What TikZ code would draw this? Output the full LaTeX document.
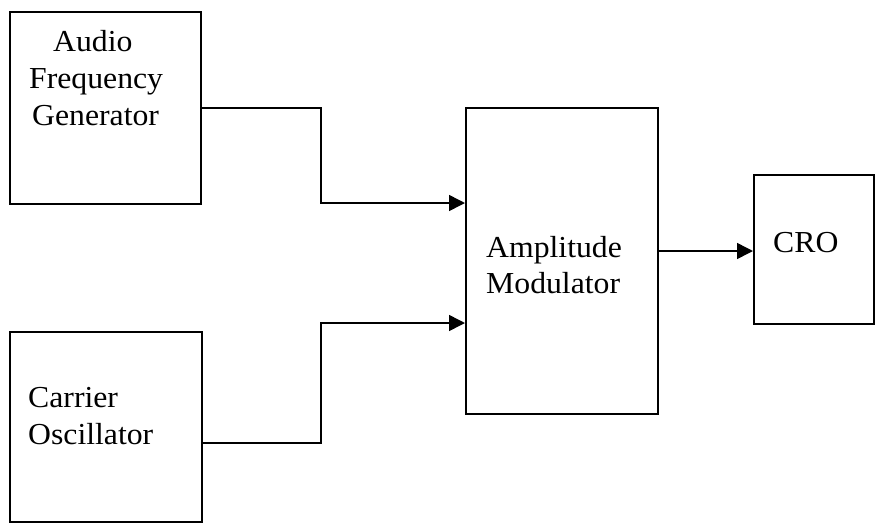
\documentclass[tikz,border=0pt]{standalone}
\usepackage{fontspec}
\setmainfont{Liberation Serif}[FakeStretch=1.04]
\usetikzlibrary{arrows.meta}
\begin{document}
\begin{tikzpicture}[x=1pt,y=-1pt,
  blk/.style={draw, line width=1.5pt, inner sep=0pt, anchor=north west},
  lbl/.style={anchor=base west, inner sep=0pt, font=\fontsize{30.5}{36}\selectfont},
  wire/.style={line width=1.5pt},
  arr/.style={wire, -{Triangle[length=16pt,width=16pt]}}]
\useasboundingbox (0,0) rectangle (876,523);
\node[blk, minimum width=191pt, minimum height=192pt] (afg) at (9,11) {};
\node[blk, minimum width=192pt, minimum height=190pt] (co) at (9,331) {};
\node[blk, minimum width=192pt, minimum height=306pt] (am) at (465,107) {};
\node[blk, minimum width=120pt, minimum height=149pt] (cro) at (753,174) {};
\node[lbl] (t1) at (53,51) {Audio};
\node[lbl] (t2) at (29,88) {Frequency};
\node[lbl] (t3) at (32,125) {Generator};
\node[lbl] (t4) at (28,407) {Carrier};
\node[lbl] (t5) at (28,444) {Oscillator};
\node[lbl] (t6) at (486,257) {Amplitude};
\node[lbl] (t7) at (486,293) {Modulator};
\node[lbl] (t8) at (773,252) {CRO};
\coordinate (ya) at (0,203);
\coordinate (yb) at (0,323);
\coordinate (yc) at (0,443);
\coordinate (yd) at (0,251);
\coordinate (xm) at (321,0);
\draw[arr] (afg.east) -- (xm |- afg.east) -- (xm |- ya) -- (am.west |- ya);
\draw[arr] (co.east |- yc) -- (xm |- yc) -- (xm |- yb) -- (am.west |- yb);
\draw[arr] (am.east |- yd) -- (cro.west |- yd);
\end{tikzpicture}
\end{document}
